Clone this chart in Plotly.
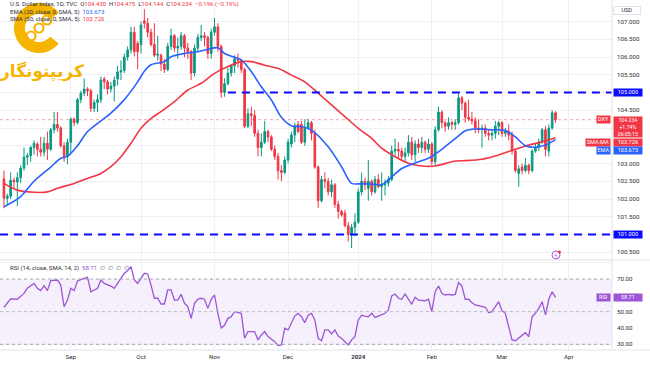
import math
import pandas as pd
import plotly.graph_objects as go

# ---------------- data ----------------
dates = [d for d in pd.bdate_range("2023-08-04", "2024-03-25") if d != pd.Timestamp("2024-01-01")]
future_dates = [d for d in pd.bdate_range("2024-03-26", "2024-04-30") if d != pd.Timestamp("2024-03-29")]

opens = [102.57, 102.02, 102.08, 102.53, 102.48, 102.60, 102.87, 103.18, 103.22, 103.45,
         103.55, 103.40, 103.32, 103.57, 103.40, 103.95, 104.10, 104.00, 103.50, 103.20,
         103.60, 104.25, 104.15, 104.80, 104.98, 105.10, 105.05, 104.55, 104.72, 104.80,
         105.38, 105.30, 105.10, 105.18, 105.38, 105.58, 105.62, 106.00, 106.20, 106.70,
         106.38, 106.35, 107.02, 106.95, 106.70, 106.35, 106.05, 106.05, 105.80, 105.65,
         106.30, 106.60, 106.25, 106.30, 106.60, 106.25, 106.15, 105.55, 106.25, 106.55,
         106.60, 106.55, 106.10, 106.70, 106.85, 106.30, 105.00, 105.25, 105.55, 105.75,
         105.95, 105.90, 105.65, 104.05, 104.40, 104.35, 103.85, 103.45, 103.60, 103.90,
         103.75, 103.40, 103.20, 102.80, 102.75, 103.10, 103.55, 103.80, 104.10, 104.10,
         103.60, 104.00, 104.15, 103.85, 102.90, 101.95, 102.55, 102.50, 102.20, 102.40,
         101.85, 101.65, 101.60, 101.25, 100.98, 101.20, 101.35, 102.20, 102.50, 102.30,
         102.50, 102.20, 102.55, 102.35, 102.40, 102.45, 102.55, 103.35, 103.40, 103.35,
         103.20, 103.30, 103.60, 103.25, 103.55, 103.45, 103.60, 103.40, 103.55, 103.05,
         103.95, 104.45, 104.15, 104.05, 104.15, 104.10, 104.15, 104.85, 104.70, 104.30,
         104.25, 104.20, 104.00, 103.95, 104.00, 103.85, 103.80, 103.85, 104.05, 104.15,
         103.85, 103.90, 103.80, 103.35, 102.72, 102.90, 102.80, 102.95, 102.80, 103.35,
         103.45, 103.60, 103.95, 103.35, 104.00, 104.430]
highs = [102.80, 102.15, 102.75, 102.60, 102.75, 102.95, 103.45, 103.30, 103.50, 103.65,
         103.60, 103.75, 103.75, 103.90, 104.00, 104.45, 104.45, 104.05, 103.60, 103.70,
         104.30, 104.30, 104.85, 105.05, 105.40, 105.15, 105.10, 104.80, 104.95, 105.45,
         105.45, 105.35, 105.30, 105.45, 105.75, 105.90, 106.10, 106.30, 106.85, 106.85,
         106.45, 107.00, 107.35, 107.10, 106.80, 106.95, 106.60, 106.10, 105.95, 106.40,
         106.80, 106.65, 106.55, 106.70, 106.65, 106.40, 106.20, 106.35, 106.65, 106.90,
         106.70, 106.60, 106.80, 107.10, 106.95, 106.35, 105.40, 105.70, 105.80, 106.05,
         106.10, 105.95, 105.70, 104.55, 104.60, 104.50, 103.95, 103.85, 104.20, 103.95,
         103.80, 103.50, 103.30, 102.95, 103.20, 103.70, 103.90, 104.15, 104.20, 104.20,
         104.25, 104.25, 104.20, 103.95, 102.95, 102.65, 102.75, 102.60, 102.55, 102.45,
         101.95, 101.70, 101.70, 101.35, 101.30, 101.60, 102.30, 102.75, 102.60, 103.10,
         102.55, 102.65, 102.70, 102.75, 102.55, 102.65, 103.50, 103.70, 103.60, 103.45,
         103.45, 103.80, 103.75, 103.65, 103.70, 103.75, 103.65, 103.70, 103.60, 104.05,
         104.60, 104.50, 104.20, 104.30, 104.20, 104.25, 104.97, 104.90, 104.75, 104.80,
         104.45, 104.30, 104.25, 104.10, 104.10, 103.95, 103.95, 104.20, 104.20, 104.20,
         104.00, 104.10, 103.90, 103.40, 102.95, 103.00, 103.15, 103.00, 103.40, 103.55,
         103.70, 104.00, 104.05, 104.10, 104.50, 104.475]
lows = [101.74, 101.85, 102.00, 102.30, 101.80, 102.45, 102.80, 102.95, 103.05, 103.25,
        103.20, 103.20, 103.20, 103.10, 103.35, 103.85, 103.90, 103.45, 103.05, 102.98,
        103.30, 104.05, 104.10, 104.70, 104.90, 104.90, 104.45, 104.45, 104.45, 104.70,
        105.10, 104.95, 105.00, 104.75, 105.20, 105.35, 105.55, 105.90, 106.10, 106.02,
        105.65, 106.10, 106.80, 106.55, 106.30, 106.00, 105.90, 105.60, 105.55, 105.60,
        106.20, 106.15, 105.95, 106.20, 106.00, 105.95, 105.35, 105.45, 106.15, 106.45,
        106.30, 105.95, 105.95, 106.60, 106.15, 104.85, 104.88, 105.20, 105.45, 105.55,
        105.70, 105.55, 104.00, 104.00, 104.05, 103.75, 103.20, 103.20, 103.55, 103.60,
        103.35, 103.10, 102.55, 102.50, 102.70, 103.00, 103.45, 103.60, 103.85, 103.55,
        103.50, 103.95, 103.65, 102.85, 101.75, 101.90, 102.30, 102.10, 102.05, 101.75,
        101.45, 101.50, 101.20, 100.80, 100.62, 100.95, 101.30, 102.10, 102.25, 101.95,
        102.10, 102.15, 102.30, 101.95, 102.10, 102.35, 102.50, 103.20, 103.15, 103.10,
        103.05, 103.20, 103.10, 103.05, 103.30, 103.30, 103.30, 103.30, 102.95, 102.95,
        103.90, 104.00, 103.90, 103.95, 103.95, 103.95, 104.10, 104.50, 104.15, 104.20,
        104.10, 103.85, 103.85, 103.45, 103.75, 103.65, 103.65, 103.70, 103.80, 103.75,
        103.75, 103.65, 103.25, 102.75, 102.35, 102.70, 102.75, 102.70, 102.75, 103.30,
        103.35, 103.55, 103.20, 103.20, 103.95, 104.144]
closes = [102.02, 102.08, 102.53, 102.48, 102.60, 102.87, 103.18, 103.22, 103.45, 103.57,
          103.40, 103.32, 103.57, 103.40, 103.95, 104.10, 104.00, 103.50, 103.20, 103.60,
          104.25, 104.15, 104.80, 104.98, 105.10, 105.05, 104.55, 104.72, 104.80, 105.35,
          105.30, 105.10, 105.18, 105.35, 105.58, 105.62, 106.00, 106.20, 106.70, 106.15,
          106.15, 106.90, 106.95, 106.70, 106.35, 106.05, 106.08, 105.80, 105.65, 106.30,
          106.60, 106.25, 106.30, 106.60, 106.25, 106.15, 105.55, 106.25, 106.55, 106.60,
          106.55, 106.10, 106.70, 106.85, 106.30, 105.00, 105.25, 105.55, 105.75, 105.95,
          105.90, 105.65, 104.05, 104.40, 104.35, 103.85, 103.45, 103.60, 103.90, 103.75,
          103.40, 103.20, 102.80, 102.75, 103.10, 103.60, 103.80, 104.05, 103.90, 103.60,
          104.00, 104.15, 103.85, 102.90, 101.95, 102.55, 102.50, 102.20, 102.40, 101.85,
          101.65, 101.55, 101.25, 101.00, 101.20, 101.35, 102.20, 102.50, 102.40, 102.50,
          102.20, 102.55, 102.35, 102.40, 102.45, 102.55, 103.35, 103.40, 103.35, 103.20,
          103.30, 103.60, 103.25, 103.55, 103.45, 103.60, 103.40, 103.55, 103.05, 103.95,
          104.45, 104.15, 104.05, 104.15, 104.10, 104.15, 104.85, 104.70, 104.30, 104.25,
          104.20, 104.00, 103.95, 104.00, 103.85, 103.80, 103.85, 104.05, 104.15, 103.85,
          103.90, 103.80, 103.35, 102.80, 102.85, 102.80, 102.95, 102.80, 103.35, 103.45,
          103.60, 103.95, 103.40, 104.00, 104.43, 104.234]

ema_bars = [0, 5, 9, 14, 17, 19, 22, 25, 29, 32, 36, 40, 42, 44, 48, 50, 54, 58, 61, 64,
            66, 69, 71, 74, 77, 80, 83, 86, 89, 92, 97, 101, 104, 107, 110, 113, 115, 119,
            124, 127, 131, 135, 138, 141, 146, 150, 153, 156, 159, 162, 165]
ema_vals = [101.78, 102.07, 102.50, 102.90, 103.15, 103.20, 103.50, 103.90, 104.20, 104.42,
            104.80, 105.30, 105.60, 105.78, 105.87, 106.01, 106.10, 106.15, 106.22, 106.26,
            106.10, 105.99, 105.92, 105.59, 105.16, 104.79, 104.30, 104.06, 104.04, 103.94,
            103.47, 102.91, 102.44, 102.43, 102.42, 102.40, 102.54, 102.86, 103.05, 103.15,
            103.40, 103.70, 103.92, 103.97, 103.95, 103.93, 103.75, 103.50, 103.46, 103.52,
            103.673]

sma_bars = [0, 4, 9, 13, 16, 21, 25, 29, 32, 35, 38, 41, 44, 47, 51, 55, 59, 63, 67, 71,
            74, 78, 82, 86, 90, 94, 98, 102, 106, 110, 113, 117, 121, 125, 129, 135, 138,
            143, 148, 153, 157, 161, 165]
sma_vals = [102.44, 102.25, 102.19, 102.20, 102.30, 102.44, 102.58, 102.72, 102.91, 103.19,
            103.57, 103.99, 104.27, 104.46, 104.74, 105.07, 105.26, 105.54, 105.73, 105.87,
            105.87, 105.77, 105.68, 105.49, 105.30, 104.98, 104.65, 104.32, 103.99, 103.71,
            103.43, 103.19, 103.01, 102.93, 102.93, 103.07, 103.08, 103.12, 103.24, 103.40,
            103.52, 103.61, 103.726]

rsi_bars = [0, 2, 4, 6, 7, 9, 10, 11, 12, 13, 14, 16, 17, 18, 19, 20, 21, 22, 24, 25,
            26, 27, 28, 29, 30, 32, 33, 34, 36, 37, 38, 39, 40, 42, 43, 44, 45, 46, 47, 48,
            49, 50, 51, 52, 53, 54, 55, 56, 57, 58, 59, 60, 61, 62, 63, 64, 65, 66, 67, 68,
            69, 71, 72, 73, 75, 76, 77, 78, 79, 81, 82, 83, 84, 85, 86, 87, 88, 89, 90, 91,
            92, 93, 94, 95, 96, 97, 98, 99, 100, 101, 102, 103, 104, 105, 106, 107, 108, 109,
            110, 111, 112, 114, 115, 116, 117, 118, 119, 120, 122, 123, 124, 126, 127, 128,
            129, 130, 131, 132, 133, 134, 135, 136, 137, 138, 139, 140, 141, 143, 144, 145,
            146, 147, 148, 149, 150, 151, 152, 153, 155, 156, 157, 158, 159, 160, 161, 162,
            163, 164, 165]
rsi_vals = [52.7, 57.8, 57.6, 61.2, 64.3, 67.3, 64.3, 62.9, 65.9, 62.9, 69.0, 69.4, 66.3, 53.0,
            57.1, 64.3, 62.9, 68.8, 70.4, 71.0, 62.2, 63.3, 64.3, 69.4, 67.3, 65.7, 64.3, 67.3,
            73.5, 75.1, 77.6, 69.4, 67.3, 73.5, 73.1, 66.3, 58.2, 58.2, 54.7, 54.7, 63.3, 63.3,
            57.1, 57.1, 60.6, 55.1, 53.1, 45.9, 55.1, 57.6, 58.2, 57.6, 52.0, 57.6, 60.2, 49.0,
            39.8, 41.8, 45.9, 46.9, 50.0, 49.0, 33.7, 37.8, 37.8, 32.7, 35.7, 37.8, 34.7, 31.6,
            29.2, 29.6, 39.8, 38.8, 42.9, 47.3, 49.0, 46.9, 43.3, 47.8, 49.0, 44.9, 33.7, 32.2,
            38.8, 38.8, 36.3, 38.8, 35.1, 33.7, 31.6, 29.6, 32.7, 34.7, 44.9, 47.8, 47.3, 46.9,
            49.0, 46.5, 47.3, 49.0, 51.0, 59.6, 60.8, 58.2, 57.6, 60.8, 54.5, 58.8, 57.1, 56.7,
            57.6, 50.0, 62.2, 65.7, 61.2, 60.2, 60.6, 60.2, 60.6, 67.8, 65.7, 57.6, 57.6, 55.5,
            54.1, 53.1, 52.7, 49.4, 50.0, 53.1, 56.1, 50.6, 49.0, 40.8, 32.7, 32.2, 35.7, 37.1,
            34.7, 46.9, 49.0, 52.0, 56.1, 48.0, 57.6, 62.2, 58.71]

level_prices = [105.0, 101.0]
level_start = ["2023-11-07", None]
price_ticks = [100.5, 101.0, 101.5, 102.0, 102.5, 103.0, 103.5, 104.0, 104.5, 105.0, 105.5, 106.0, 106.5, 107.0]
price_hidden = [101.0, 103.5, 104.0, 105.0]
rsi_ticks = [30, 40, 50, 60, 70, 80]
rsi_hidden = [60, 80]
rsi_levels = [70, 50, 30]

# ---------------- styling ----------------
GREEN = "#089981"
RED = "#f23645"
BLUE = "#2962ff"
LEVEL_BLUE = "#0a0aff"
PURPLE = "#9c55d6"
GOLD = "#f4b400"
TXT = "#2a2e39"
GRID = "#eef0f5"
BORDER = "#e0e3eb"
FONT = "Roboto, Liberation Sans, sans-serif"

W, H = 650, 365
ML, MR, MT, MB = 0, 38, 0, 15
PW, PH = W - ML - MR, H - MT - MB
XR = [-1.18, 181.9]

x = list(range(len(dates)))
all_dates = dates + future_dates
month_idx = [i for i in range(1, len(all_dates)) if all_dates[i].month != all_dates[i - 1].month]
month_txt = [("<b>%d</b>" % all_dates[i].year) if all_dates[i].month == 1 else all_dates[i].strftime("%b")
             for i in month_idx]


def py(pix):  # pixel-from-top -> paper y
    return (PH - pix) / PH


def px(pix):
    return pix / PW


fig = go.Figure()
fig.add_trace(go.Candlestick(
    x=x, open=opens, high=highs, low=lows, close=closes,
    increasing=dict(line=dict(color=GREEN, width=1), fillcolor=GREEN),
    decreasing=dict(line=dict(color=RED, width=1), fillcolor=RED),
    whiskerwidth=0, showlegend=False, hoverinfo="skip", xaxis="x", yaxis="y"))
fig.add_trace(go.Scatter(x=sma_bars, y=sma_vals, mode="lines", xaxis="x", yaxis="y",
                         line=dict(color=RED, width=1.6, shape="spline", smoothing=0.8),
                         showlegend=False, hoverinfo="skip"))
fig.add_trace(go.Scatter(x=ema_bars, y=ema_vals, mode="lines", xaxis="x", yaxis="y",
                         line=dict(color=BLUE, width=1.6, shape="spline", smoothing=0.8),
                         showlegend=False, hoverinfo="skip"))
fig.add_trace(go.Scatter(x=rsi_bars, y=rsi_vals, mode="lines", xaxis="x2", yaxis="y2",
                         line=dict(color=PURPLE, width=1.3), showlegend=False, hoverinfo="skip"))

shapes = []
shapes.append(dict(type="rect", xref="paper", x0=0, x1=1, yref="y2", y0=30, y1=70,
                   fillcolor="rgba(149,91,214,0.09)", line=dict(width=0), layer="below"))
for lv in rsi_levels:
    shapes.append(dict(type="line", xref="paper", x0=0, x1=1, yref="y2", y0=lv, y1=lv,
                       line=dict(color="#a3a6af" if lv != 50 else "#b8bac2", width=1, dash="3px,3px")))
for lvl, st in zip(level_prices, level_start):
    x0 = XR[0] if st is None else all_dates.index(pd.Timestamp(st))
    shapes.append(dict(type="line", xref="x", x0=x0, x1=XR[1], yref="y", y0=lvl, y1=lvl,
                       line=dict(color=LEVEL_BLUE, width=2, dash="8px,6px")))
shapes.append(dict(type="line", xref="x", x0=XR[0], x1=XR[1], yref="y", y0=closes[-1], y1=closes[-1],
                   line=dict(color="rgba(242,54,69,0.45)", width=1, dash="dot")))
shapes.append(dict(type="line", xref="paper", x0=0, x1=(W - ML) / PW, yref="paper", y0=py(260), y1=py(260),
                   line=dict(color=BORDER, width=1)))
shapes.append(dict(type="line", xref="paper", x0=0, x1=(W - ML) / PW, yref="paper", y0=0, y1=0,
                   line=dict(color=BORDER, width=1)))
shapes.append(dict(type="line", xref="paper", x0=1, x1=1, yref="paper", y0=0, y1=1,
                   line=dict(color=BORDER, width=1)))
shapes.append(dict(type="circle", xref="paper", yref="paper",
                   x0=px(552), x1=px(560), y0=py(259), y1=py(251),
                   line=dict(color="#a25bd8", width=1), fillcolor="white"))
shapes.append(dict(type="circle", xref="paper", yref="paper",
                   x0=px(558), x1=px(561), y0=py(253.5), y1=py(250.5),
                   line=dict(width=0), fillcolor=RED))


# gold "C" ring of the watermark logo, drawn as a path (pixel geometry -> paper)
def ring_path(cx, cy, r_out, r_in, a0, a1, n=40):
    outer = [(cx + r_out * math.cos(math.radians(a0 + (a1 - a0) * k / n)),
              cy - r_out * math.sin(math.radians(a0 + (a1 - a0) * k / n))) for k in range(n + 1)]
    inner = [(cx + r_in * math.cos(math.radians(a1 - (a1 - a0) * k / n)),
              cy - r_in * math.sin(math.radians(a1 - (a1 - a0) * k / n))) for k in range(n + 1)]
    pts = outer + inner
    return "M " + " L ".join("%.5f,%.5f" % (px(a), py(b)) for a, b in pts) + " Z"


shapes.append(dict(type="path", xref="paper", yref="paper", path=ring_path(39, 28, 25, 14, 38, 322),
                   fillcolor=GOLD, line=dict(width=0)))
# chain links inside the C
for (lx, ly) in [(31, 36), (39, 28), (47, 20)]:
    shapes.append(dict(type="circle", xref="paper", yref="paper",
                       x0=px(lx - 4.5), x1=px(lx + 4.5), y0=py(ly + 4.5), y1=py(ly - 4.5),
                       line=dict(color=GOLD, width=2.2), fillcolor="rgba(0,0,0,0)"))

ann = []
chg = closes[-1] - closes[-2]
pct = chg / closes[-2] * 100
nb = "\u00a0"
line1 = ("U.S. Dollar Index, 1D, TVC" + nb * 2 +
         "O<span style='color:%s'>%.3f</span>" % (RED, opens[-1]) + nb * 2 +
         "H<span style='color:%s'>%.3f</span>" % (RED, highs[-1]) + nb * 2 +
         "L<span style='color:%s'>%.3f</span>" % (RED, lows[-1]) + nb * 2 +
         "C<span style='color:%s'>%.3f</span>" % (RED, closes[-1]) + nb * 2 +
         "<span style='color:%s'>%s%.3f (%s%.2f%%)</span>" % (RED, "\u2212", abs(chg), "\u2212", abs(pct)))
line2 = "EMA (20, close, 0, SMA, 5)" + nb * 2 + "<span style='color:%s'>%.3f</span>" % (BLUE, ema_vals[-1])
line3 = "SMA (50, close, 0, SMA, 5)" + nb * 2 + "<span style='color:%s'>%.3f</span>" % (RED, sma_vals[-1])
for t, yy in [(line1, 4), (line2, 11.7), (line3, 19.3)]:
    ann.append(dict(text=t, xref="paper", yref="paper", x=px(8), y=py(yy), xanchor="left", yanchor="middle",
                    showarrow=False, font=dict(size=6.0, color=TXT, family=FONT)))
rsi_leg = ("RSI (14, close, SMA, 14, 2)" + nb * 2 +
           "<span style='color:%s'>%.2f</span>" % (PURPLE, rsi_vals[-1]) + nb * 2 +
           "<span style='color:#787b86'>\u2205" + nb * 2 + "\u2205" + nb * 2 + "\u2205" + nb * 2 + "\u2205</span>")
ann.append(dict(text=rsi_leg, xref="paper", yref="paper", x=px(8), y=py(268.3), xanchor="left",
                yanchor="middle", showarrow=False, font=dict(size=6.0, color=TXT, family=FONT)))

ann.append(dict(text="<b>کریپتونگار</b>", xref="paper", yref="paper", x=px(41), y=py(71), xanchor="center",
                yanchor="middle", showarrow=False, font=dict(size=17, color=GOLD, family="DejaVu Sans")))
ann.append(dict(text="\u03df", xref="paper", yref="paper", x=px(556), y=py(255), xanchor="center",
                yanchor="middle", showarrow=False, font=dict(size=6, color="#a25bd8", family="DejaVu Sans")))


def box(text, y, yref, color, fg="white", side="right", yshift=0, width=27, border=None, size=5.6):
    d = dict(text=text, xref="paper", x=1, yref=yref, y=y, showarrow=False,
             xanchor="left" if side == "right" else "right",
             xshift=0.7 if side == "right" else -0.7, yshift=yshift,
             bgcolor=color, font=dict(size=size, color=fg, family=FONT), borderpad=0.4, align="center")
    if width:
        d["width"] = width
    if border:
        d["bordercolor"] = border
        d["borderwidth"] = 1
    return d


ann.append(box("USD", py(6), "paper", "white", fg=TXT, width=25, border=BORDER))
for lvl in level_prices:
    ann.append(box("%.3f" % lvl, lvl, "y", LEVEL_BLUE))
ann.append(box("DXY", closes[-1], "y", RED, side="left", width=12))
ann.append(dict(text="%.3f<br>+1.74%%<br>06:05:15" % closes[-1], xref="paper", x=1, xanchor="left", xshift=0.7,
                yref="y", y=closes[-1], yanchor="top", yshift=3.7, showarrow=False, bgcolor=RED,
                font=dict(size=5.2, color="white", family=FONT), borderpad=0.4, width=27, align="center"))
ann.append(box("SMA:MA", sma_vals[-1], "y", RED, side="left", width=23, yshift=-4.3))
ann.append(box("%.3f" % sma_vals[-1], sma_vals[-1], "y", RED, yshift=-4.3))
ann.append(box("EMA", ema_vals[-1], "y", BLUE, side="left", width=12, yshift=-10.5))
ann.append(box("%.3f" % ema_vals[-1], ema_vals[-1], "y", BLUE, yshift=-10.5))
ann.append(box("RSI", rsi_vals[-1], "y2", PURPLE, side="left", width=12))
ann.append(box("%.2f" % rsi_vals[-1], rsi_vals[-1], "y2", PURPLE))

tickfont = dict(size=6.2, color=TXT, family=FONT)
fig.update_layout(
    width=W, height=H, margin=dict(l=ML, r=MR, t=MT, b=MB, autoexpand=False),
    paper_bgcolor="white", plot_bgcolor="white", showlegend=False,
    xaxis=dict(domain=[0, 1], anchor="y", range=XR, tickvals=month_idx, showticklabels=False,
               showgrid=True, gridcolor=GRID, zeroline=False, rangeslider=dict(visible=False),
               showline=False, ticks=""),
    xaxis2=dict(domain=[0, 1], anchor="y2", range=XR, tickvals=month_idx, ticktext=month_txt,
                showgrid=True, gridcolor=GRID, zeroline=False, showline=False, ticks="",
                tickfont=tickfont, ticklabelstandoff=2),
    yaxis=dict(domain=[py(259), 1], anchor="x", side="right", range=[100.31, 107.606],
               tickvals=price_ticks,
               ticktext=["" if v in price_hidden else "%.3f" % v for v in price_ticks],
               showgrid=True, gridcolor=GRID, zeroline=False, ticks="", tickfont=tickfont,
               ticklabelstandoff=4),
    yaxis2=dict(domain=[0, py(261)], anchor="x2", side="right", range=[26.51, 81.03],
                tickvals=rsi_ticks,
                ticktext=["" if v in rsi_hidden else "%.2f" % v for v in rsi_ticks],
                showgrid=True, gridcolor=GRID, zeroline=False, ticks="", tickfont=tickfont,
                ticklabelstandoff=4),
    shapes=shapes, annotations=ann,
)
fig.write_html("out.html", config={"displayModeBar": False},
               post_script="document.body.style.margin='0';document.body.style.overflow='hidden';")
